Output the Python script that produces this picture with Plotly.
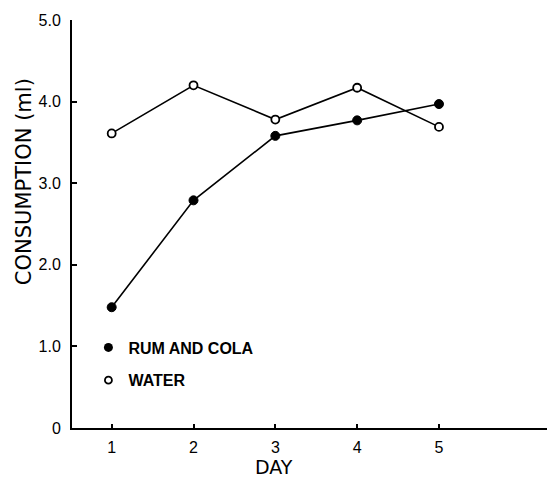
import plotly.graph_objects as go

days = [1, 2, 3, 4, 5]
rum_and_cola = [1.48, 2.79, 3.58, 3.77, 3.97]
water = [3.61, 4.20, 3.78, 4.17, 3.69]

y_tick_vals = [0, 1, 2, 3, 4, 5]
y_tick_text = ["0", "1.0", "2.0", "3.0", "4.0", "5.0"]
x_tick_vals = [1, 2, 3, 4, 5]
x_tick_text = ["1", "2", "3", "4", "5"]

fig = go.Figure()

fig.add_trace(go.Scatter(
    x=days, y=water, mode="lines+markers", showlegend=False,
    line=dict(color="black", width=1.6),
    marker=dict(symbol="circle", size=8, color="white", line=dict(color="black", width=1.8)),
))
fig.add_trace(go.Scatter(
    x=days, y=rum_and_cola, mode="lines+markers", showlegend=False,
    line=dict(color="black", width=1.6),
    marker=dict(symbol="circle", size=9, color="black", line=dict(color="black", width=1)),
))
# legend entries
fig.add_trace(go.Scatter(
    x=[None], y=[None], mode="markers", name="RUM AND COLA", legendgroup="a",
    marker=dict(symbol="circle", size=9, color="black"),
))
fig.add_trace(go.Scatter(
    x=[None], y=[None], mode="markers", name="WATER", legendgroup="b",
    marker=dict(symbol="circle", size=7, color="white", line=dict(color="black", width=1.8)),
))

fig.update_layout(
    width=547, height=471,
    margin=dict(l=64, r=0, t=12, b=51, autoexpand=False),
    paper_bgcolor="white", plot_bgcolor="white",
    font=dict(family="Liberation Sans, Arial, sans-serif", color="black", size=16),
    showlegend=True,
    legend=dict(
        x=0.034, y=0.239, xanchor="left", yanchor="top",
        bgcolor="rgba(0,0,0,0)", borderwidth=0,
        font=dict(family="Liberation Sans, Arial, sans-serif", size=16, weight="bold"),
        tracegroupgap=9, itemwidth=30,
    ),
    xaxis=dict(
        range=[0.515, 6.418], showgrid=False, zeroline=False,
        showline=True, linecolor="black", linewidth=2,
        ticks="inside", ticklen=4, tickwidth=1.5, tickcolor="black",
        tickvals=x_tick_vals, ticktext=x_tick_text,
        ticklabelstandoff=4,
        tickfont=dict(size=16),
        automargin=False,
    ),
    yaxis=dict(
        range=[0, 5], showgrid=False, zeroline=False,
        showline=True, linecolor="black", linewidth=2,
        ticks="inside", ticklen=5, tickwidth=1.5, tickcolor="black",
        tickvals=y_tick_vals, ticktext=y_tick_text,
        ticklabelstandoff=6,
        tickfont=dict(size=16),
        automargin=False,
    ),
    annotations=[
        dict(text="DAY", x=3, y=0, xref="x", yref="paper", xanchor="center", yanchor="top",
             xshift=-1, yshift=-26, showarrow=False,
             font=dict(family="DejaVu Sans, sans-serif", size=19)),
        dict(text="CONSUMPTION (ml)", x=-0.0994, y=0.605, xref="paper", yref="paper",
             xanchor="center", yanchor="middle", textangle=-90, showarrow=False,
             font=dict(family="DejaVu Sans, sans-serif", size=21)),
    ],
)

fig.write_html("out.html")
